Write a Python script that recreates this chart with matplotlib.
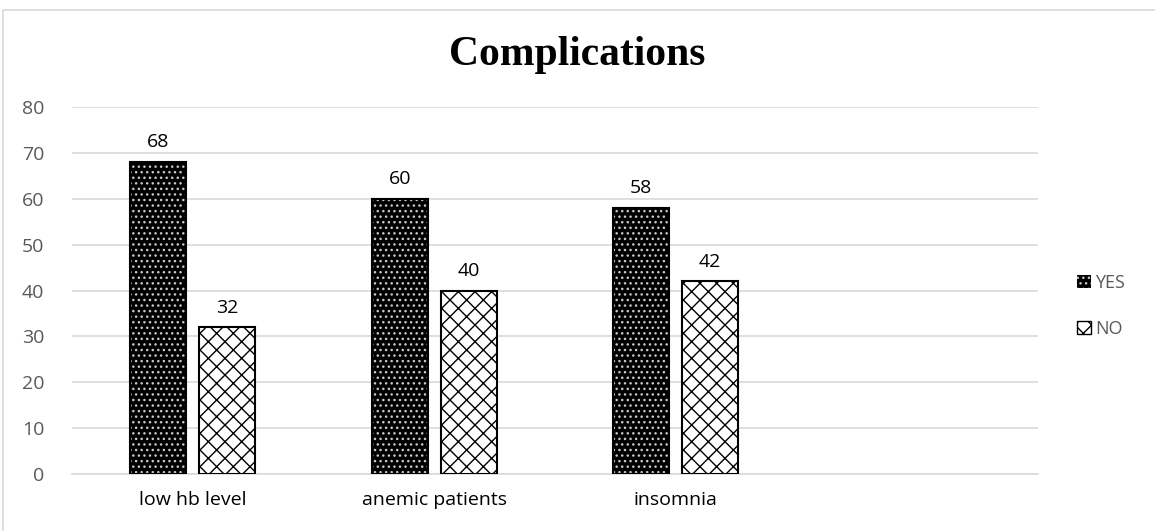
import matplotlib
matplotlib.use("Agg")
import matplotlib.pyplot as plt
from matplotlib.patches import Patch, Rectangle
import numpy as np

# data
categories = ["low hb level", "anemic patients", "insomnia", ""]
yes_vals = [68, 60, 58]
no_vals = [32, 40, 42]

plt.rcParams['font.family'] = ['Open Sans', 'DejaVu Sans']

fig = plt.figure(figsize=(11.55, 5.31), dpi=100)
ax = fig.add_axes([72 / 1155, 1 - 474 / 531, 966 / 1155, 367 / 531])

# light frame round the chart area
fig.patches.append(Rectangle((3 / 1155, -0.1), 1.2, 1 - 10 / 531 + 0.1,
                             transform=fig.transFigure, fill=False,
                             edgecolor='#d9d9d9', linewidth=1.2, zorder=0))

x = np.arange(len(yes_vals))
w = 0.232
off = 0.143

# YES: black with white dots
ax.bar(x - off, yes_vals, w, color='black', edgecolor='#c8c8c8', hatch='...', linewidth=0, zorder=2)
ax.bar(x - off, yes_vals, w, fill=False, edgecolor='black', linewidth=1.5, zorder=3)
# NO: white with black weave
ax.bar(x + off, no_vals, w, color='white', edgecolor='black', hatch='xx', linewidth=0, zorder=2)
ax.bar(x + off, no_vals, w, fill=False, edgecolor='black', linewidth=1.5, zorder=3)

for i in range(len(yes_vals)):
    ax.text(x[i] - off, yes_vals[i] + 2.3, str(yes_vals[i]), ha='center', va='bottom', fontsize=14)
    ax.text(x[i] + off, no_vals[i] + 2.3, str(no_vals[i]), ha='center', va='bottom', fontsize=14)

ax.set_xlim(-0.5, 3.5)
ax.set_ylim(0, 80)
ax.set_yticks(range(0, 81, 10))
ax.set_xticks(range(len(categories)))
ax.set_xticklabels(categories)
ax.tick_params(axis='both', length=0, labelsize=14, labelcolor='#595959')
ax.tick_params(axis='x', pad=12, labelcolor='black')
ax.tick_params(axis='y', pad=20)
ax.grid(axis='y', color='#d9d9d9', linewidth=1.2, zorder=0)
ax.set_axisbelow(True)
for s in ['top', 'right', 'left']:
    ax.spines[s].set_visible(False)
ax.spines['bottom'].set_color('#d9d9d9')
ax.spines['bottom'].set_linewidth(1.2)

fig.text(0.5, 1 - 55 / 531, "Complications", ha='center', va='center',
         fontsize=30, fontweight='bold', family='Liberation Serif')

handles = [
    Patch(facecolor='black', edgecolor='#c8c8c8', hatch='...', linewidth=0, label='YES'),
    Patch(facecolor='white', edgecolor='black', hatch='xx', label='NO'),
]
leg = fig.legend(handles=handles, loc='center left', bbox_to_anchor=(1077 / 1155, 1 - 306 / 531),
                 frameon=False, fontsize=13, handlelength=0.75, handleheight=0.75,
                 handletextpad=0.25, labelspacing=1.55, borderpad=0, borderaxespad=0)
for t in leg.get_texts():
    t.set_color('#595959')

fig.savefig("out.png", dpi=100)
